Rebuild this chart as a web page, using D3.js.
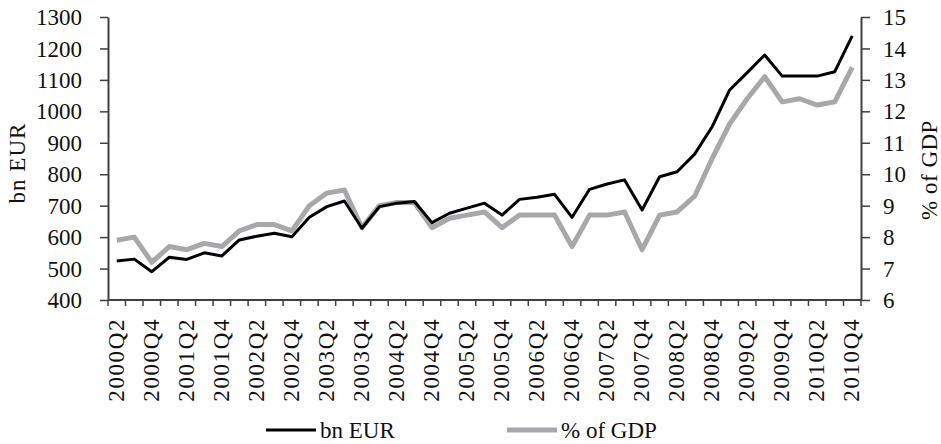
<!DOCTYPE html>
<html>
<head>
<meta charset="utf-8">
<script src="https://cdn.jsdelivr.net/npm/d3@7"></script>
<style>
  body { margin: 0; background: #fff; }
</style>
</head>
<body>
<div id="chart"></div>
<script>
// quarters 2000Q2 .. 2010Q4
const quarters = [];
for (let y = 2000; y <= 2010; y++) {
  for (let q = 1; q <= 4; q++) {
    if (y === 2000 && q === 1) continue;
    quarters.push(y + 'Q' + q);
  }
}

const bnEur = [524, 530, 490, 536, 529, 550, 540, 591, 603, 612, 601, 663, 697, 715, 628,
  697, 708, 713, 646, 676, 692, 708, 670, 720, 727, 736, 663, 752, 769, 782, 686,
  792, 808, 864, 951, 1068, 1123, 1179, 1112, 1112, 1112, 1126, 1240];

const pctGdp = [7.9, 8.0, 7.2, 7.7, 7.6, 7.8, 7.7, 8.2, 8.4, 8.4, 8.2, 9.0, 9.4, 9.5, 8.3,
  9.0, 9.1, 9.1, 8.3, 8.6, 8.7, 8.8, 8.3, 8.7, 8.7, 8.7, 7.7, 8.7, 8.7, 8.8, 7.6,
  8.7, 8.8, 9.3, 10.5, 11.6, 12.4, 13.1, 12.3, 12.4, 12.2, 12.3, 13.4];

const leftTicks = [400, 500, 600, 700, 800, 900, 1000, 1100, 1200, 1300];
const rightTicks = [6, 7, 8, 9, 10, 11, 12, 13, 14, 15];

const W = 941, H = 444;
const marg = { left: 108, right: 80, top: 17, bot: 144 };
const axisCol = '#404040';
const serif = 'Liberation Serif';
const fs = 23;

const svg = d3.select('#chart').append('svg').attr('width', W).attr('height', H)
  .attr('font-family', serif);

const x = d3.scaleBand().domain(quarters).range([marg.left, W - marg.right]);
const yL = d3.scaleLinear().domain([400, 1300]).range([H - marg.bot, marg.top]);
const yR = d3.scaleLinear().domain([6, 15]).range([H - marg.bot, marg.top]);

// left axis
const gL = svg.append('g').attr('transform', 'translate(' + marg.left + ',0)')
  .call(d3.axisLeft(yL).tickValues(leftTicks).tickFormat(d3.format('d'))
    .tickSize(8).tickPadding(18).tickSizeOuter(0));
// right axis
const gR = svg.append('g').attr('transform', 'translate(' + (W - marg.right) + ',0)')
  .call(d3.axisRight(yR).tickValues(rightTicks).tickFormat(d3.format('d'))
    .tickSize(9).tickPadding(13).tickSizeOuter(0));
// bottom axis: ticks on band boundaries
const gB = svg.append('g').attr('transform', 'translate(0,' + (H - marg.bot) + ')');
gB.append('line').attr('x1', marg.left).attr('x2', W - marg.right)
  .attr('stroke', axisCol).attr('stroke-width', 2);
const bounds = quarters.map(q => x(q)).concat([W - marg.right]);
gB.selectAll('line.tk').data(bounds).enter().append('line').attr('class', 'tk')
  .attr('x1', d => d).attr('x2', d => d).attr('y1', 0).attr('y2', 6)
  .attr('stroke', axisCol).attr('stroke-width', 1.5);
gB.selectAll('text').data(quarters.filter((d, i) => i % 2 === 0)).enter().append('text')
  .attr('transform', d => 'translate(' + (x(d) + x.bandwidth() / 2 + 7) + ',18) rotate(-90)')
  .attr('text-anchor', 'end')
  .attr('font-family', serif)
  .attr('font-size', fs)
  .attr('letter-spacing', 1.6)
  .attr('fill', '#111')
  .text(d => d);

[gL, gR].forEach(g => {
  g.attr('font-family', serif);
  g.select('.domain').attr('stroke', axisCol).attr('stroke-width', 2);
  g.selectAll('.tick line').attr('stroke', axisCol).attr('stroke-width', 1.5);
  g.selectAll('.tick text').attr('font-family', serif).attr('font-size', fs)
    .attr('fill', '#111').attr('dy', '0.33em');
});

// axis titles
svg.append('text').attr('transform', 'translate(25,163) rotate(-90)')
  .attr('text-anchor', 'middle').attr('font-family', serif).attr('font-size', fs)
  .attr('letter-spacing', 1).attr('fill', '#111').text('bn EUR');
svg.append('text').attr('transform', 'translate(937,170) rotate(-90)')
  .attr('text-anchor', 'middle').attr('font-family', serif).attr('font-size', fs)
  .attr('letter-spacing', 0.5).attr('fill', '#111').text('% of GDP');

const cx = d => x(d) + x.bandwidth() / 2;

svg.append('path').datum(pctGdp)
  .attr('fill', 'none').attr('stroke', '#a6a8ab').attr('stroke-width', 5)
  .attr('stroke-linejoin', 'round')
  .attr('d', d3.line().x((d, i) => cx(quarters[i])).y(d => yR(d)));

svg.append('path').datum(bnEur)
  .attr('fill', 'none').attr('stroke', '#000').attr('stroke-width', 3)
  .attr('stroke-linejoin', 'round')
  .attr('d', d3.line().x((d, i) => cx(quarters[i])).y(d => yL(d)));

// legend
const leg = [
  { name: 'bn EUR', col: '#000', w: 3, x: 266 },
  { name: '% of GDP', col: '#a6a8ab', w: 5, x: 507 }
];
const lg = svg.append('g').selectAll('g').data(leg).enter().append('g')
  .attr('transform', d => 'translate(' + d.x + ',430)');
lg.append('line').attr('x1', 0).attr('x2', 50)
  .attr('stroke', d => d.col).attr('stroke-width', d => d.w);
lg.append('text').attr('x', 54).attr('dy', '0.35em').attr('font-family', serif)
  .attr('font-size', fs).attr('fill', '#111').text(d => d.name);
</script>
</body>
</html>
